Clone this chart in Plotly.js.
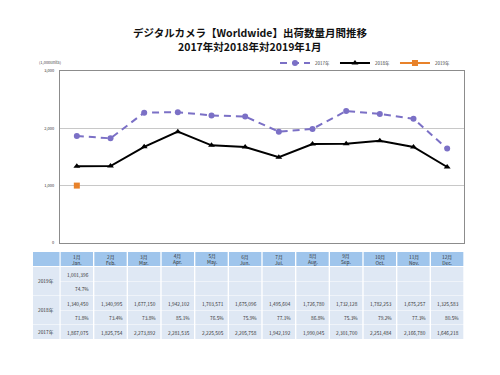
<!DOCTYPE html>
<html><head><meta charset="utf-8">
<script src="https://cdn.plot.ly/plotly-3.0.1.min.js"></script>
<style>html,body{margin:0;padding:0;background:#fff}#chart{width:500px;height:375px}</style>
</head><body><div id="chart"></div>
<script>
// ---- data ----
const monthsJa = ['1月','2月','3月','4月','5月','6月','7月','8月','9月','10月','11月','12月'];
const monthsEn = ['Jan.','Feb.','Mar.','Apr.','May.','Jun.','Jul.','Aug.','Sep.','Oct.','Nov.','Dec.'];
const seriesNames = ['2017年','2018年','2019年'];
const units2017 = [1867075,1825754,2273892,2281535,2225505,2205758,1942192,1990045,2301700,2251484,2166780,1646218];
const units2018 = [1340450,1340995,1677150,1942102,1703571,1675096,1495604,1726780,1732128,1782253,1675257,1325583];
const units2019 = [1001396];
const ratio2018 = [71.8,73.4,73.8,85.1,76.5,75.9,77.1,86.8,75.3,79.2,77.3,80.5];
const ratio2019 = [74.7];
const yTicks = [0,1000,2000,3000];
const unitLabel = '(1,000units)';
const titleLine1 = 'デジタルカメラ【Worldwide】出荷数量月間推移';
const titleLine2 = '2017年対2018年対2019年1月';

// ---- geometry helpers ----
const W = 500, H = 375, L = 60, R = 36, T = 71, B = 132;
const PW = W - L - R, PH = H - T - B;
const px2x = p => (p - L) / PW;
const py2y = p => (T + PH - p) / PH;
const FONT = '"Noto Sans CJK JP", "Noto Sans", sans-serif';

const toK = arr => arr.map(v => v / 1000);
const fmt = v => v.toLocaleString('en-US');
const fmtPct = v => v.toFixed(1) + '%';

const traces = [
  {x: monthsJa, y: toK(units2017), name: seriesNames[0], type: 'scatter', mode: 'lines+markers',
   line: {color: '#7b70c6', width: 2, dash: '7px,5px'}, marker: {symbol: 'circle', size: 6, color: '#7b70c6'}},
  {x: monthsJa, y: toK(units2018), name: seriesNames[1], type: 'scatter', mode: 'lines+markers',
   line: {color: '#000000', width: 2}, marker: {symbol: 'triangle-up', size: 6, color: '#000000'}},
  {x: monthsJa.slice(0, units2019.length), y: toK(units2019), name: seriesNames[2], type: 'scatter', mode: 'lines+markers',
   line: {color: '#e8822a', width: 2}, marker: {symbol: 'square', size: 6, color: '#e8822a'}}
];

// ---- table (shapes + annotations) ----
const shapes = [], annotations = [];
const HEAD = '#9fc5ec', BODY = '#dfe8f4';
const rowTop = [252, 267, 281.5, 296, 310.5, 325];
const rowBot = [266, 281, 295.5, 310, 324.5, 339];
const gx = 0.02;
const tFont = {family: FONT, size: 4.8, color: '#333'};
function cellBg(i, r, color) {
  shapes.push({type: 'rect', xref: 'x', yref: 'paper', x0: i - 0.5 + gx, x1: i + 0.5 - gx,
    y0: py2y(rowBot[r]), y1: py2y(rowTop[r]), fillcolor: color, line: {width: 0}, layer: 'above'});
}
function labelBg(r0, r1, color) {
  shapes.push({type: 'rect', xref: 'paper', yref: 'paper', x0: px2x(33), x1: px2x(59.5),
    y0: py2y(rowBot[r1]), y1: py2y(rowTop[r0]), fillcolor: color, line: {width: 0}});
}
function cellText(i, r, text) {
  annotations.push({xref: 'x', yref: 'paper', x: i + 0.42, xanchor: 'right',
    y: py2y((rowTop[r] + rowBot[r]) / 2), yanchor: 'middle', text: text, showarrow: false, font: tFont});
}
function labelText(r0, r1, text) {
  annotations.push({xref: 'paper', yref: 'paper', x: px2x(46), xanchor: 'center',
    y: py2y((rowTop[r0] + rowBot[r1]) / 2), yanchor: 'middle', text: text, showarrow: false, font: tFont});
}
labelBg(0, 0, HEAD);
labelBg(1, 2, BODY); labelBg(3, 4, BODY); labelBg(5, 5, BODY);
labelText(1, 2, seriesNames[2]); labelText(3, 4, seriesNames[1]); labelText(5, 5, seriesNames[0]);
monthsJa.forEach((m, i) => {
  cellBg(i, 0, HEAD);
  for (let r = 1; r <= 5; r++) cellBg(i, r, BODY);
  annotations.push({xref: 'x', yref: 'paper', x: i, xanchor: 'center',
    y: py2y((rowTop[0] + rowBot[0]) / 2), yanchor: 'middle', text: m + '<br>' + monthsEn[i],
    showarrow: false, font: tFont, align: 'center'});
  if (i < units2019.length) { cellText(i, 1, fmt(units2019[i])); cellText(i, 2, fmtPct(ratio2019[i])); }
  cellText(i, 3, fmt(units2018[i]));
  cellText(i, 4, fmtPct(ratio2018[i]));
  cellText(i, 5, fmt(units2017[i]));
});
annotations.push({xref: 'paper', yref: 'paper', x: px2x(37), xanchor: 'left', y: py2y(62), yanchor: 'middle',
  text: unitLabel, showarrow: false, font: {family: FONT, size: 4, color: '#444'}});
// second title line
annotations.push({xref: 'paper', yref: 'paper', x: px2x(250), xanchor: 'center', y: py2y(46.5), yanchor: 'middle',
  text: titleLine2, showarrow: false, font: {family: FONT, size: 10.5, color: '#111', weight: 'bold'}});

const layout = {
  width: W, height: H, margin: {l: L, r: R, t: T, b: B},
  paper_bgcolor: '#fff', plot_bgcolor: '#fff',
  font: {family: FONT, color: '#333'},
  title: {text: titleLine1, x: 0.5, xanchor: 'center', xref: 'container', yref: 'container',
    y: 1 - 33 / H, yanchor: 'middle', font: {family: FONT, size: 10.5, color: '#111', weight: 'bold'}},
  showlegend: true,
  legend: {orientation: 'h', x: px2x(455), xanchor: 'right', y: py2y(63), yanchor: 'middle',
    font: {family: FONT, size: 4.5, color: '#444'}, bgcolor: 'rgba(0,0,0,0)', itemwidth: 30,
    traceorder: 'normal', tracegroupgap: 0},
  xaxis: {type: 'category', range: [-0.5, 11.5], showticklabels: false, showgrid: false, zeroline: false,
    showline: true, mirror: true, linecolor: '#8c8c8c', linewidth: 1, ticks: '', fixedrange: true},
  yaxis: {range: [0, 3000], tickvals: yTicks, tickformat: ',', showgrid: true, gridcolor: '#c8c8c8', gridwidth: 1,
    zeroline: false, showline: true, mirror: true, linecolor: '#8c8c8c', linewidth: 1,
    ticks: 'outside', ticklen: 4, tickcolor: 'rgba(0,0,0,0)', tickfont: {family: FONT, size: 4, color: '#333'}},
  shapes: shapes, annotations: annotations
};
Plotly.newPlot('chart', traces, layout, {displayModeBar: false, staticPlot: true});
</script></body></html>
